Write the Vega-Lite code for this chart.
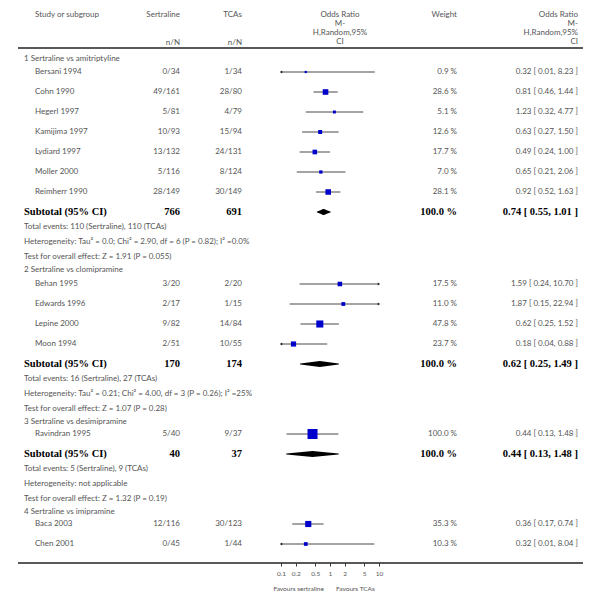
{
  "$schema": "https://vega.github.io/schema/vega-lite/v6.json",
  "width": 601,
  "height": 563,
  "autosize": {"type": "none"},
  "padding": {"left": 0, "top": 0, "right": 0, "bottom": 38},
  "background": "white",
  "config": {"view": {"stroke": null}, "text": {"font": "Lato", "fontSize": 8, "color": "#555555", "baseline": "middle"}},
  "datasets": {
    "studies": [
      {"study": "Bersani 1994", "sert": "0/34", "tca": "1/34", "or": 0.32, "lo": 0.01, "hi": 8.23, "w": 0.9, "wt": "0.9 %", "ci": "0.32 [ 0.01, 8.23 ]", "row": 1},
      {"study": "Cohn 1990", "sert": "49/161", "tca": "28/80", "or": 0.81, "lo": 0.46, "hi": 1.44, "w": 28.6, "wt": "28.6 %", "ci": "0.81 [ 0.46, 1.44 ]", "row": 2},
      {"study": "Hegerl 1997", "sert": "5/81", "tca": "4/79", "or": 1.23, "lo": 0.32, "hi": 4.77, "w": 5.1, "wt": "5.1 %", "ci": "1.23 [ 0.32, 4.77 ]", "row": 3},
      {"study": "Kamijima 1997", "sert": "10/93", "tca": "15/94", "or": 0.63, "lo": 0.27, "hi": 1.50, "w": 12.6, "wt": "12.6 %", "ci": "0.63 [ 0.27, 1.50 ]", "row": 4},
      {"study": "Lydiard 1997", "sert": "13/132", "tca": "24/131", "or": 0.49, "lo": 0.24, "hi": 1.00, "w": 17.7, "wt": "17.7 %", "ci": "0.49 [ 0.24, 1.00 ]", "row": 5},
      {"study": "Moller 2000", "sert": "5/116", "tca": "8/124", "or": 0.65, "lo": 0.21, "hi": 2.06, "w": 7.0, "wt": "7.0 %", "ci": "0.65 [ 0.21, 2.06 ]", "row": 6},
      {"study": "Reimherr 1990", "sert": "28/149", "tca": "30/149", "or": 0.92, "lo": 0.52, "hi": 1.63, "w": 28.1, "wt": "28.1 %", "ci": "0.92 [ 0.52, 1.63 ]", "row": 7},
      {"study": "Behan 1995", "sert": "3/20", "tca": "2/20", "or": 1.59, "lo": 0.24, "hi": 10.70, "w": 17.5, "wt": "17.5 %", "ci": "1.59 [ 0.24, 10.70 ]", "row": 11.6},
      {"study": "Edwards 1996", "sert": "2/17", "tca": "1/15", "or": 1.87, "lo": 0.15, "hi": 22.94, "w": 11.0, "wt": "11.0 %", "ci": "1.87 [ 0.15, 22.94 ]", "row": 12.6},
      {"study": "Lepine 2000", "sert": "9/82", "tca": "14/84", "or": 0.62, "lo": 0.25, "hi": 1.52, "w": 47.8, "wt": "47.8 %", "ci": "0.62 [ 0.25, 1.52 ]", "row": 13.6},
      {"study": "Moon 1994", "sert": "2/51", "tca": "10/55", "or": 0.18, "lo": 0.04, "hi": 0.88, "w": 23.7, "wt": "23.7 %", "ci": "0.18 [ 0.04, 0.88 ]", "row": 14.6},
      {"study": "Ravindran 1995", "sert": "5/40", "tca": "9/37", "or": 0.44, "lo": 0.13, "hi": 1.48, "w": 100.0, "wt": "100.0 %", "ci": "0.44 [ 0.13, 1.48 ]", "row": 19.1},
      {"study": "Baca 2003", "sert": "12/116", "tca": "30/123", "or": 0.36, "lo": 0.17, "hi": 0.74, "w": 35.3, "wt": "35.3 %", "ci": "0.36 [ 0.17, 0.74 ]", "row": 23.6},
      {"study": "Chen 2001", "sert": "0/45", "tca": "1/44", "or": 0.32, "lo": 0.01, "hi": 8.04, "w": 10.3, "wt": "10.3 %", "ci": "0.32 [ 0.01, 8.04 ]", "row": 24.6}
    ],
    "subtotals": [
      {"label": "Subtotal (95% CI)", "sert": "766", "tca": "691", "wt": "100.0 %", "ci": "0.74 [ 0.55, 1.01 ]", "or": 0.74, "lo": 0.55, "hi": 1.01, "row": 8},
      {"label": "Subtotal (95% CI)", "sert": "170", "tca": "174", "wt": "100.0 %", "ci": "0.62 [ 0.25, 1.49 ]", "or": 0.62, "lo": 0.25, "hi": 1.49, "row": 15.6},
      {"label": "Subtotal (95% CI)", "sert": "40", "tca": "37", "wt": "100.0 %", "ci": "0.44 [ 0.13, 1.48 ]", "or": 0.44, "lo": 0.13, "hi": 1.48, "row": 20.1}
    ],
    "notes": [
      {"text": "1 Sertraline vs amitriptyline", "row": 0.35},
      {"text": "Total events: 110 (Sertraline), 110 (TCAs)", "row": 8.75},
      {"text": "Heterogeneity: Tau² = 0.0; Chi² = 2.90, df = 6 (P = 0.82); I² =0.0%", "row": 9.5},
      {"text": "Test for overall effect: Z = 1.91 (P = 0.055)", "row": 10.25},
      {"text": "2 Sertraline vs clomipramine", "row": 10.9},
      {"text": "Total events: 16 (Sertraline), 27 (TCAs)", "row": 16.35},
      {"text": "Heterogeneity: Tau² = 0.21; Chi² = 4.00, df = 3 (P = 0.26); I² =25%", "row": 17.1},
      {"text": "Test for overall effect: Z = 1.07 (P = 0.28)", "row": 17.85},
      {"text": "3 Sertraline vs desimipramine", "row": 18.5},
      {"text": "Total events: 5 (Sertraline), 9 (TCAs)", "row": 20.85},
      {"text": "Heterogeneity: not applicable", "row": 21.6},
      {"text": "Test for overall effect: Z = 1.32 (P = 0.19)", "row": 22.35},
      {"text": "4 Sertraline vs imipramine", "row": 23.0}
    ],
    "headers": [
      {"text": "Study or subgroup", "col": 2, "row": -1.85},
      {"text": "Sertraline", "col": 3, "row": -1.85},
      {"text": "TCAs", "col": 4, "row": -1.85},
      {"text": "n/N", "col": 3, "row": -0.45},
      {"text": "n/N", "col": 4, "row": -0.45},
      {"text": "Odds Ratio", "col": 5, "row": -1.85},
      {"text": "M-", "col": 5, "row": -1.4},
      {"text": "H,Random,95%", "col": 5, "row": -0.95},
      {"text": "CI", "col": 5, "row": -0.5},
      {"text": "Weight", "col": 6, "row": -1.85},
      {"text": "Odds Ratio", "col": 8, "row": -1.85},
      {"text": "M-", "col": 8, "row": -1.4},
      {"text": "H,Random,95%", "col": 8, "row": -0.95},
      {"text": "CI", "col": 8, "row": -0.5}
    ],
    "rules": [
      {"line": "header", "row": -0.2},
      {"line": "footer", "row": 25.55}
    ],
    "favours": [
      {"label": "Favours sertraline", "side": "left", "row": 26.85},
      {"label": "Favours TCAs", "side": "right", "row": 26.85}
    ]
  },
  "encoding": {
    "y": {"field": "row", "type": "quantitative", "scale": {"domain": [-2.6, 25.55], "reverse": true, "nice": false, "zero": false}, "axis": null}
  },
  "resolve": {"scale": {"x": "independent"}, "axis": {"x": "independent"}},
  "layer": [
    {
      "data": {"name": "rules"},
      "mark": {"type": "rule", "color": "#222222", "strokeWidth": 1.5},
      "encoding": {
        "x": {"datum": 0, "type": "quantitative", "scale": {"type": "linear", "domain": [0, 1, 2, 3, 4, 5, 6, 7, 8, 9], "range": [18, 24, 35, 180, 242, 340, 457, 562, 578, 583], "nice": false, "zero": false}, "axis": null},
        "x2": {"datum": 9}
      }
    },
    {
      "data": {"values": [{}]},
      "mark": {"type": "rule", "color": "#b8b8b8", "strokeWidth": 1},
      "encoding": {
        "x": {"datum": 1, "type": "quantitative", "scale": {"type": "log", "domain": [0.1, 10], "range": [281, 379], "clamp": true, "nice": false},
          "axis": {"values": [0.1, 0.2, 0.5, 1, 2, 5, 10], "format": "~g", "orient": "bottom", "domain": false, "grid": false, "ticks": true, "tickSize": 3, "tickColor": "#000000", "tickWidth": 0.8, "labelFontSize": 6.5, "labelFont": "Lato", "labelColor": "#555555", "labelPadding": 4, "labelFlush": false, "labelOverlap": false, "title": null}},
        "y": {"datum": -0.2},
        "y2": {"datum": 25.55}
      }
    },
    {
      "data": {"name": "studies"},
      "mark": {"type": "rule", "color": "#333333", "strokeWidth": 0.9},
      "encoding": {
        "x": {"field": "lo", "type": "quantitative", "scale": {"type": "log", "domain": [0.1, 10], "range": [281, 379], "clamp": true, "nice": false}, "axis": null},
        "x2": {"field": "hi"}
      }
    },
    {
      "data": {"name": "studies"},
      "transform": [{"filter": "datum.lo < 0.1"}],
      "mark": {"type": "point", "shape": "triangle-left", "filled": true, "color": "#222222", "size": 8, "opacity": 1},
      "encoding": {
        "x": {"field": "lo", "type": "quantitative", "scale": {"type": "log", "domain": [0.1, 10], "range": [281, 379], "clamp": true, "nice": false}, "axis": null}
      }
    },
    {
      "data": {"name": "studies"},
      "transform": [{"filter": "datum.hi > 10"}],
      "mark": {"type": "point", "shape": "triangle-right", "filled": true, "color": "#222222", "size": 8, "opacity": 1},
      "encoding": {
        "x": {"field": "hi", "type": "quantitative", "scale": {"type": "log", "domain": [0.1, 10], "range": [281, 379], "clamp": true, "nice": false}, "axis": null}
      }
    },
    {
      "data": {"name": "studies"},
      "mark": {"type": "point", "shape": "square", "filled": true, "color": "#0000cc", "opacity": 1},
      "encoding": {
        "x": {"field": "or", "type": "quantitative", "scale": {"type": "log", "domain": [0.1, 10], "range": [281, 379], "clamp": true, "nice": false}, "axis": null},
        "size": {"field": "w", "type": "quantitative", "scale": {"domain": [0, 100], "range": [4, 100], "zero": false}, "legend": null}
      }
    },
    {
      "data": {"name": "subtotals"},
      "transform": [{"fold": ["lo", "or", "hi"], "as": ["key", "value"]}],
      "mark": {"type": "trail", "color": "#000000"},
      "encoding": {
        "x": {"field": "value", "type": "quantitative", "scale": {"type": "log", "domain": [0.1, 10], "range": [281, 379], "clamp": true, "nice": false}, "axis": null},
        "size": {"field": "key", "type": "nominal", "scale": {"type": "ordinal", "domain": ["lo", "or", "hi"], "range": [0, 6, 0]}, "legend": null},
        "detail": {"field": "row", "type": "nominal"},
        "order": {"field": "value", "type": "quantitative"}
      }
    },
    {
      "data": {"name": "favours"},
      "transform": [{"filter": "datum.side == 'left'"}],
      "mark": {"type": "text", "align": "right", "fontSize": 6.5},
      "encoding": {
        "x": {"datum": 0.75, "type": "quantitative", "scale": {"type": "log", "domain": [0.1, 10], "range": [281, 379], "clamp": true, "nice": false}, "axis": null},
        "text": {"field": "label"}
      }
    },
    {
      "data": {"name": "favours"},
      "transform": [{"filter": "datum.side == 'right'"}],
      "mark": {"type": "text", "align": "left", "fontSize": 6.5},
      "encoding": {
        "x": {"datum": 1.33, "type": "quantitative", "scale": {"type": "log", "domain": [0.1, 10], "range": [281, 379], "clamp": true, "nice": false}, "axis": null},
        "text": {"field": "label"}
      }
    },
    {
      "data": {"name": "headers"},
      "transform": [{"filter": "datum.col <= 2"}],
      "mark": {"type": "text", "align": "left"},
      "encoding": {"x": {"field": "col", "type": "quantitative", "scale": {"type": "linear", "domain": [0, 1, 2, 3, 4, 5, 6, 7, 8, 9], "range": [18, 24, 35, 180, 242, 340, 457, 562, 578, 583], "nice": false, "zero": false}, "axis": null}, "text": {"field": "text"}}
    },
    {
      "data": {"name": "headers"},
      "transform": [{"filter": "datum.col == 5"}],
      "mark": {"type": "text", "align": "center"},
      "encoding": {"x": {"field": "col", "type": "quantitative", "scale": {"type": "linear", "domain": [0, 1, 2, 3, 4, 5, 6, 7, 8, 9], "range": [18, 24, 35, 180, 242, 340, 457, 562, 578, 583], "nice": false, "zero": false}, "axis": null}, "text": {"field": "text"}}
    },
    {
      "data": {"name": "headers"},
      "transform": [{"filter": "datum.col > 2 && datum.col != 5"}],
      "mark": {"type": "text", "align": "right"},
      "encoding": {"x": {"field": "col", "type": "quantitative", "scale": {"type": "linear", "domain": [0, 1, 2, 3, 4, 5, 6, 7, 8, 9], "range": [18, 24, 35, 180, 242, 340, 457, 562, 578, 583], "nice": false, "zero": false}, "axis": null}, "text": {"field": "text"}}
    },
    {
      "data": {"name": "notes"},
      "mark": {"type": "text", "align": "left"},
      "encoding": {"x": {"datum": 1, "type": "quantitative", "scale": {"type": "linear", "domain": [0, 1, 2, 3, 4, 5, 6, 7, 8, 9], "range": [18, 24, 35, 180, 242, 340, 457, 562, 578, 583], "nice": false, "zero": false}, "axis": null}, "text": {"field": "text"}}
    },
    {
      "data": {"name": "studies"},
      "mark": {"type": "text", "align": "left"},
      "encoding": {"x": {"datum": 2, "type": "quantitative", "scale": {"type": "linear", "domain": [0, 1, 2, 3, 4, 5, 6, 7, 8, 9], "range": [18, 24, 35, 180, 242, 340, 457, 562, 578, 583], "nice": false, "zero": false}, "axis": null}, "text": {"field": "study"}}
    },
    {
      "data": {"name": "studies"},
      "mark": {"type": "text", "align": "right"},
      "encoding": {"x": {"datum": 3, "type": "quantitative", "scale": {"type": "linear", "domain": [0, 1, 2, 3, 4, 5, 6, 7, 8, 9], "range": [18, 24, 35, 180, 242, 340, 457, 562, 578, 583], "nice": false, "zero": false}, "axis": null}, "text": {"field": "sert"}}
    },
    {
      "data": {"name": "studies"},
      "mark": {"type": "text", "align": "right"},
      "encoding": {"x": {"datum": 4, "type": "quantitative", "scale": {"type": "linear", "domain": [0, 1, 2, 3, 4, 5, 6, 7, 8, 9], "range": [18, 24, 35, 180, 242, 340, 457, 562, 578, 583], "nice": false, "zero": false}, "axis": null}, "text": {"field": "tca"}}
    },
    {
      "data": {"name": "studies"},
      "mark": {"type": "text", "align": "right"},
      "encoding": {"x": {"datum": 6, "type": "quantitative", "scale": {"type": "linear", "domain": [0, 1, 2, 3, 4, 5, 6, 7, 8, 9], "range": [18, 24, 35, 180, 242, 340, 457, 562, 578, 583], "nice": false, "zero": false}, "axis": null}, "text": {"field": "wt"}}
    },
    {
      "data": {"name": "studies"},
      "mark": {"type": "text", "align": "right"},
      "encoding": {"x": {"datum": 8, "type": "quantitative", "scale": {"type": "linear", "domain": [0, 1, 2, 3, 4, 5, 6, 7, 8, 9], "range": [18, 24, 35, 180, 242, 340, 457, 562, 578, 583], "nice": false, "zero": false}, "axis": null}, "text": {"field": "ci"}}
    },
    {
      "data": {"name": "subtotals"},
      "mark": {"type": "text", "align": "left", "font": "Liberation Serif", "fontWeight": "bold", "fontSize": 10.5, "color": "#000000"},
      "encoding": {"x": {"datum": 1, "type": "quantitative", "scale": {"type": "linear", "domain": [0, 1, 2, 3, 4, 5, 6, 7, 8, 9], "range": [18, 24, 35, 180, 242, 340, 457, 562, 578, 583], "nice": false, "zero": false}, "axis": null}, "text": {"field": "label"}}
    },
    {
      "data": {"name": "subtotals"},
      "mark": {"type": "text", "align": "right", "font": "Liberation Serif", "fontWeight": "bold", "fontSize": 10.5, "color": "#000000"},
      "encoding": {"x": {"datum": 3, "type": "quantitative", "scale": {"type": "linear", "domain": [0, 1, 2, 3, 4, 5, 6, 7, 8, 9], "range": [18, 24, 35, 180, 242, 340, 457, 562, 578, 583], "nice": false, "zero": false}, "axis": null}, "text": {"field": "sert"}}
    },
    {
      "data": {"name": "subtotals"},
      "mark": {"type": "text", "align": "right", "font": "Liberation Serif", "fontWeight": "bold", "fontSize": 10.5, "color": "#000000"},
      "encoding": {"x": {"datum": 4, "type": "quantitative", "scale": {"type": "linear", "domain": [0, 1, 2, 3, 4, 5, 6, 7, 8, 9], "range": [18, 24, 35, 180, 242, 340, 457, 562, 578, 583], "nice": false, "zero": false}, "axis": null}, "text": {"field": "tca"}}
    },
    {
      "data": {"name": "subtotals"},
      "mark": {"type": "text", "align": "right", "font": "Liberation Serif", "fontWeight": "bold", "fontSize": 10.5, "color": "#000000"},
      "encoding": {"x": {"datum": 6, "type": "quantitative", "scale": {"type": "linear", "domain": [0, 1, 2, 3, 4, 5, 6, 7, 8, 9], "range": [18, 24, 35, 180, 242, 340, 457, 562, 578, 583], "nice": false, "zero": false}, "axis": null}, "text": {"field": "wt"}}
    },
    {
      "data": {"name": "subtotals"},
      "mark": {"type": "text", "align": "right", "font": "Liberation Serif", "fontWeight": "bold", "fontSize": 10.5, "color": "#000000"},
      "encoding": {"x": {"datum": 8, "type": "quantitative", "scale": {"type": "linear", "domain": [0, 1, 2, 3, 4, 5, 6, 7, 8, 9], "range": [18, 24, 35, 180, 242, 340, 457, 562, 578, 583], "nice": false, "zero": false}, "axis": null}, "text": {"field": "ci"}}
    }
  ]
}
